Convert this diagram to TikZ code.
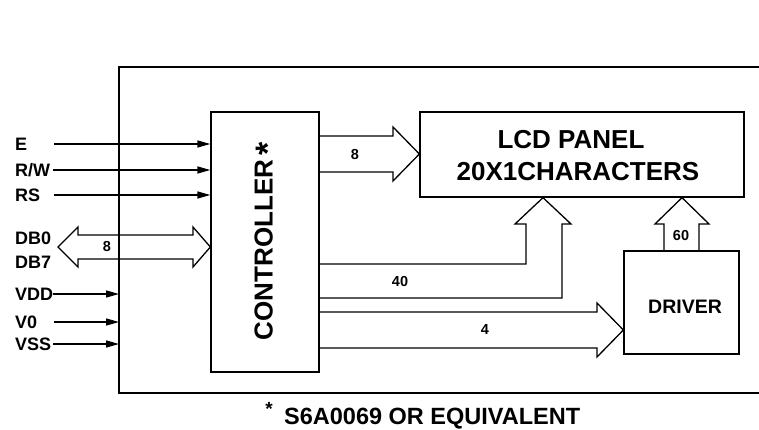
\documentclass[tikz,border=0pt]{standalone}
\usepackage{fontspec}
\setmainfont{Liberation Sans}
\usetikzlibrary{arrows.meta}
\begin{document}
\begin{tikzpicture}[x=1pt,y=-1pt,
  wire/.style={line width=1.3pt},
  sig/.style={wire,-{Triangle[length=13pt,width=7pt]}},
  box/.style={draw,line width=1.3pt,inner sep=0pt},
  pin/.style={anchor=west,inner sep=0pt,text height=12.8pt,text depth=0pt,font=\fontsize{18}{18}\selectfont\bfseries},
  num/.style={inner sep=0pt,font=\fontsize{14.5}{14.5}\selectfont\bfseries},
  big/.style={inner sep=0pt,font=\fontsize{26}{26}\selectfont\bfseries},
  hollow/.style={wire,line join=miter}]
\useasboundingbox (0,0) rectangle (759,430);

% frame
\coordinate (fTL) at (119,67);
\coordinate (fBL) at (119,393);
\coordinate (fTR) at (759,67);
\coordinate (fBR) at (759,393);
\draw[wire] (fTR) -- (fTL) -- (fBL) -- (fBR);

% blocks
\node[box,minimum width=108pt,minimum height=260pt] (ctrl) at (265,242) {};
\node[box,minimum width=324pt,minimum height=85pt] (lcd) at (582,154.5) {};
\node[box,minimum width=115pt,minimum height=103pt] (drv) at (681.5,302.5) {};

\node[big,rotate=90] (ctrltxt) at (267,241) {CONTROLLER\,\raisebox{-7pt}{\fontsize{34}{34}\selectfont *}};
\node[big] (lcd1) at (571,140) {LCD PANEL};
\node[big] (lcd2) at (578,172) {20X1CHARACTERS};
\node[inner sep=0pt,font=\fontsize{19.5}{19.5}\selectfont\bfseries] (drvtxt) at (685,307) {DRIVER};

% pin labels
\node[pin] (lE) at (15,144) {E};
\node[pin] (lRW) at (15,170) {R/W};
\node[pin] (lRS) at (15,195) {RS};
\node[pin] (lDB0) at (15,238) {DB0};
\node[pin] (lDB7) at (15,262) {DB7};
\node[pin] (lVDD) at (15,294) {VDD};
\node[pin] (lV0) at (15,322) {V0};
\node[pin] (lVSS) at (15,344) {VSS};

% signal arrows
\coordinate (sE) at (54,144);
\coordinate (sRW) at (53,170);
\coordinate (sRS) at (54,195);
\coordinate (sVDD) at (53,294);
\coordinate (sV0) at (54,322);
\coordinate (sVSS) at (53,344);
\draw[sig] (sE) -- (ctrl.west |- sE);
\draw[sig] (sRW) -- (ctrl.west |- sRW);
\draw[sig] (sRS) -- (ctrl.west |- sRS);
\draw[sig] (sVDD) -- (fTL |- sVDD);
\draw[sig] (sV0) -- (fTL |- sV0);
\draw[sig] (sVSS) -- (fTL |- sVSS);

% data bus double arrow
\draw[hollow] (58,247) -- (78,227) -- (78,235) -- (193,235) -- (193,227) -- (ctrl.west |- 0,247)
  -- (193,267) -- (193,259) -- (78,259) -- (78,267) -- cycle;
\node[num] (n8a) at (107,247) {8};

% controller -> LCD (8)
\draw[hollow] (ctrl.east |- 0,136) -- (393,136) -- (393,127) -- (lcd.west |- 0,154)
  -- (393,181) -- (393,172) -- (ctrl.east |- 0,172);
\node[num] (n8b) at (355,155) {8};

% controller -> LCD (40)
\draw[hollow] (ctrl.east |- 0,264) -- (526,264) -- (526,224) -- (515,224) -- (lcd.south -| 543,0)
  -- (571,224) -- (562,224) -- (562,298) -- (ctrl.east |- 0,298);
\node[num] (n40) at (400,282) {40};

% controller -> driver (4)
\draw[hollow] (ctrl.east |- 0,312) -- (597,312) -- (597,303) -- (drv.west |- 0,330)
  -- (597,357) -- (597,348) -- (ctrl.east |- 0,348);
\node[num] (n4) at (485,330) {4};

% driver -> LCD (60)
\draw[hollow] (drv.north -| 664,0) -- (664,224) -- (655,224) -- (lcd.south -| 682,0)
  -- (709,224) -- (699,224) -- (drv.north -| 699,0);
\node[num] (n60) at (681,236) {60};

% footnote
\node[inner sep=0pt,font=\fontsize{19}{19}\selectfont\bfseries] (ast) at (269,409) {*};
\node[inner sep=0pt,anchor=base west,font=\fontsize{23.5}{23.5}\selectfont\bfseries] (fn) at (284,424) {S6A0069 OR EQUIVALENT};
\end{tikzpicture}
\end{document}
